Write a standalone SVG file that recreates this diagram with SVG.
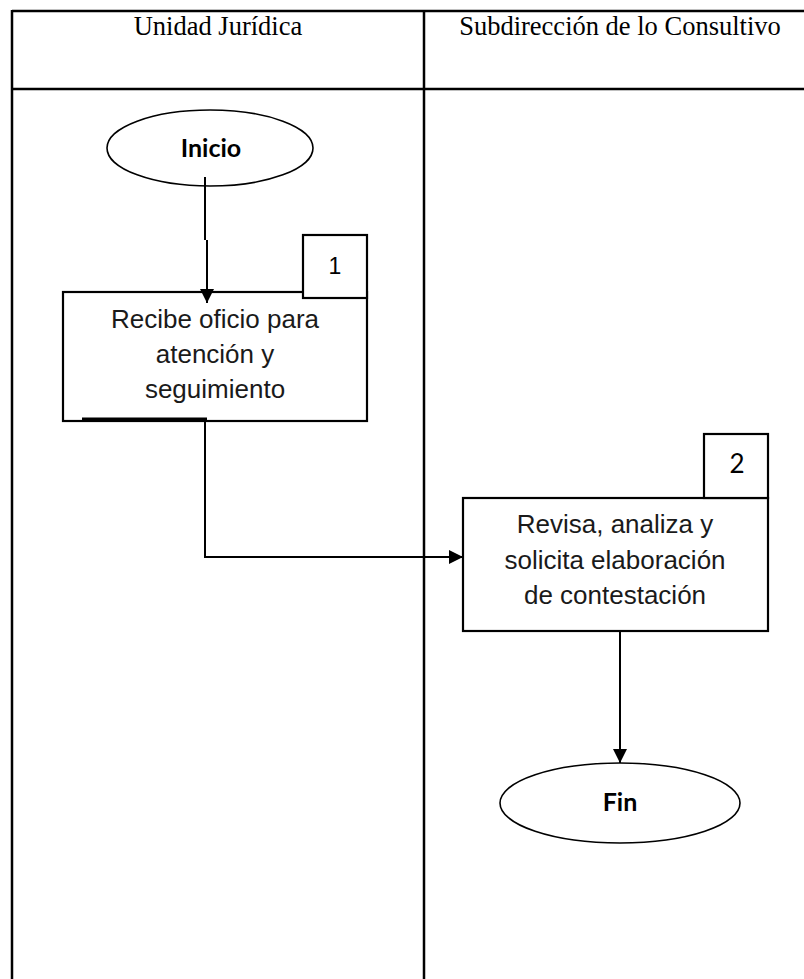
<svg xmlns="http://www.w3.org/2000/svg" width="804" height="979" viewBox="0 0 804 979">
<style>
.tbl{stroke:#000;stroke-width:2.5;fill:none}
.hdr{font-family:"Liberation Serif","Times New Roman",serif;font-size:26.5px;fill:#000;text-anchor:middle}
.box{fill:#fff;stroke:#000;stroke-width:2.2}
.txt{font-family:"Liberation Sans",Arial,sans-serif;font-size:26px;fill:#1a1a1a;text-anchor:middle}
.term{font-family:Lato,"Open Sans",sans-serif;font-size:25px;font-weight:bold;fill:#000;text-anchor:middle}
.num1{font-family:"Liberation Sans",Arial,sans-serif;font-size:23px;fill:#000;text-anchor:middle}
.num2{font-family:Lato,"Open Sans",sans-serif;font-size:26px;fill:#000;text-anchor:middle}
.ell{fill:#fff;stroke:#000;stroke-width:1.6}
.con{stroke:#000;stroke-width:2;fill:none}
</style>
<defs>
<marker id="ah" viewBox="0 0 10 10" refX="10" refY="5" markerWidth="7" markerHeight="7" markerUnits="strokeWidth" orient="auto">
<path d="M0,0 L10,5 L0,10 z" fill="#000"/>
</marker>
</defs>
<rect width="804" height="979" fill="#fff"/>
<g id="table">
<line class="tbl" x1="12" y1="11" x2="804" y2="11"/>
<line class="tbl" x1="12" y1="89" x2="804" y2="89"/>
<line class="tbl" x1="12" y1="10" x2="12" y2="979"/>
<line class="tbl" x1="424" y1="10" x2="424" y2="979"/>
<text class="hdr" x="218" y="35">Unidad Jurídica</text>
<text class="hdr" x="620" y="35">Subdirección de lo Consultivo</text>
</g>
<g id="inicio">
<ellipse class="ell" cx="210" cy="148" rx="103" ry="38"/>
<text class="term" x="211" y="157">Inicio</text>
</g>
<g id="paso1">
<rect class="box" x="63" y="292" width="304" height="129"/>
<rect class="box" x="303" y="235" width="64" height="63"/>
<text class="num1" x="335" y="274">1</text>
<line x1="82" y1="419" x2="207" y2="419" stroke="#000" stroke-width="3"/>
<text class="txt" x="215" y="328">Recibe oficio para</text>
<text class="txt" x="215" y="363">atención y</text>
<text class="txt" x="215" y="398">seguimiento</text>
</g>
<g id="paso2">
<rect class="box" x="463" y="498" width="305" height="133"/>
<rect class="box" x="704" y="434" width="64" height="64"/>
<text class="num2" x="737" y="473">2</text>
<text class="txt" x="615" y="533">Revisa, analiza y</text>
<text class="txt" x="615" y="569">solicita elaboración</text>
<text class="txt" x="615" y="604">de contestación</text>
</g>
<g id="fin">
<ellipse class="ell" cx="620" cy="803" rx="120" ry="40"/>
<text class="term" x="620" y="811">Fin</text>
</g>
<g id="connectors">
<path class="con" d="M205,177 L205,240 M207,240 L207,303" marker-end="url(#ah)"/>
<path class="con" d="M205,421 L205,557 L463,557" marker-end="url(#ah)"/>
<path class="con" d="M620,631 L620,763" marker-end="url(#ah)"/>
</g>
</svg>
